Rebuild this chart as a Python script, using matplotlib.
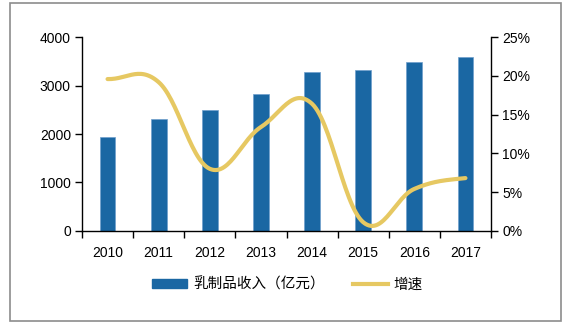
import numpy as np
import matplotlib.pyplot as plt
from matplotlib.patches import Rectangle
from matplotlib.lines import Line2D

plt.rcParams['font.family'] = ['Liberation Sans', 'Noto Sans CJK SC', 'DejaVu Sans']

years = ['2010', '2011', '2012', '2013', '2014', '2015', '2016', '2017']
income = [1930, 2310, 2500, 2830, 3290, 3330, 3495, 3585]   # 亿元
growth = [19.6, 19.2, 8.0, 13.4, 16.4, 1.1, 5.4, 6.8]        # %

bar_color = '#1a67a3'
line_color = '#e6c862'


def smooth(xs, ys, n=30, k=0.19):
    # Bezier curve through the points (like a spreadsheet "smoothed line")
    xs = np.asarray(xs, float)
    ys = np.asarray(ys, float)
    px = np.concatenate([[2 * xs[0] - xs[1]], xs, [2 * xs[-1] - xs[-2]]])
    py = np.concatenate([[ys[0]], ys, [ys[-1]]])
    out_x, out_y = [], []
    for i in range(1, len(px) - 2):
        t = np.linspace(0, 1, n, endpoint=False)
        for p, out in ((px, out_x), (py, out_y)):
            p0, p1, p2, p3 = p[i - 1], p[i], p[i + 1], p[i + 2]
            c1 = p1 + (p2 - p0) * k
            c2 = p2 - (p3 - p1) * k
            out.extend((1 - t) ** 3 * p1 + 3 * (1 - t) ** 2 * t * c1
                       + 3 * (1 - t) * t ** 2 * c2 + t ** 3 * p2)
    out_x.append(xs[-1])
    out_y.append(ys[-1])
    return np.array(out_x), np.array(out_y)


W, H = 568, 324
fig = plt.figure(figsize=(W / 100, H / 100), dpi=100)
fig.patches.append(Rectangle((10 / W, 3 / H), 551 / W, 318 / H,
                             transform=fig.transFigure, fill=False,
                             edgecolor='#8c8c8c', linewidth=1.2))

ax = fig.add_axes([82 / W, 1 - 230.7 / H, 409 / W, 193.4 / H])
x = np.arange(len(years))
ax.bar(x, income, width=0.31, color=bar_color, edgecolor='#6f9fcc',
       linewidth=0.5, zorder=2)
ax.set_xlim(-0.5, len(years) - 0.5)
ax.set_ylim(0, 4000)
ax.set_yticks([0, 1000, 2000, 3000, 4000])
ax.set_xticks(x)
ax.set_xticklabels(years)
ax.set_xticks(np.arange(-0.5, len(years)), minor=True)
ax.tick_params(axis='x', which='major', length=0, pad=11, labelsize=10)
ax.tick_params(axis='x', which='minor', length=5, width=1)
ax.tick_params(axis='y', length=5, width=1, labelsize=10, pad=3)
for s in ['top', 'right']:
    ax.spines[s].set_visible(False)
for s in ['left', 'bottom']:
    ax.spines[s].set_linewidth(1)

ax2 = ax.twinx()
sx, sy = smooth(x, growth)
ax2.plot(sx, sy, color=line_color, linewidth=3, solid_capstyle='round', zorder=3)
ax2.set_ylim(0, 25)
ax2.set_yticks([0, 5, 10, 15, 20, 25])
ax2.set_yticklabels([f'{v}%' for v in [0, 5, 10, 15, 20, 25]])
ax2.tick_params(axis='y', length=5, width=1, labelsize=10, pad=3)
for s in ['top', 'left', 'bottom']:
    ax2.spines[s].set_visible(False)
ax2.spines['right'].set_linewidth(1)

handles = [Rectangle((0, 0), 1, 1, color=bar_color),
           Line2D([], [], color=line_color, linewidth=3)]
fig.legend(handles, ['乳制品收入（亿元）', '增速'], loc='center',
           bbox_to_anchor=(287.5 / W, 1 - 284.5 / H), ncol=2, frameon=False,
           handlelength=2.4, handleheight=0.55, handletextpad=0.4,
           columnspacing=1.9,
           prop={'family': ['Noto Sans CJK SC', 'DejaVu Sans'], 'size': 10.5})

fig.savefig('out.png', dpi=100)
